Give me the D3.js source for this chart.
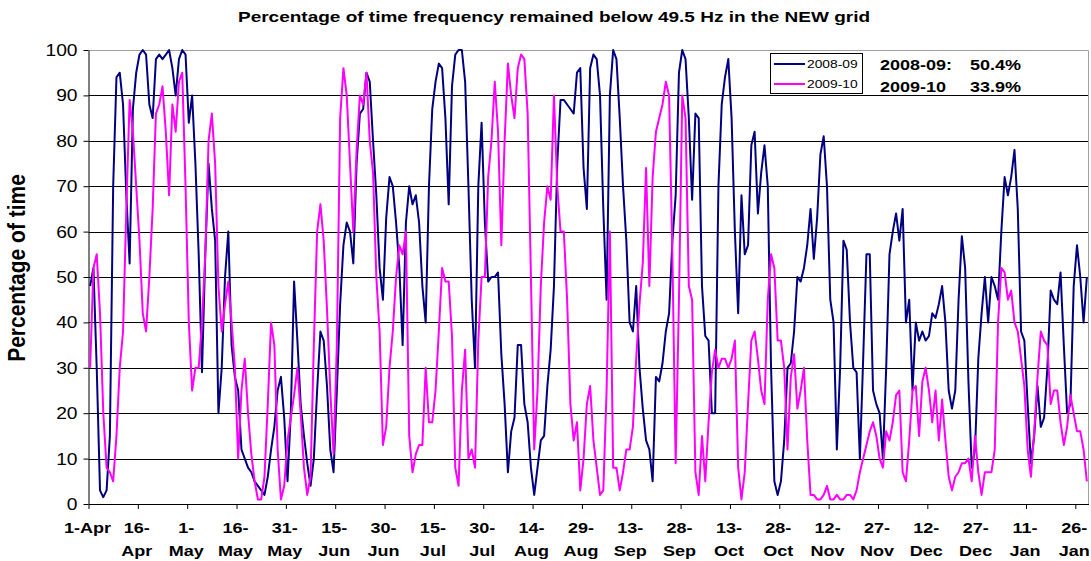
<!DOCTYPE html>
<html><head><meta charset="utf-8">
<script src="https://cdn.jsdelivr.net/npm/d3@7"></script>
<style>
body{margin:0;background:#fff;}
svg text{font-family:"Liberation Sans",Arial,sans-serif;fill:#000;}
</style></head>
<body><svg id="c" width="1091" height="561"></svg>
<script>
const series0Name = "2008-09";
const series1Name = "2009-10";
const navy = [
48,52,30,3,1.5,3,15,70,94,95,
88,68,53,87,95,99,100,99,88,85,
98,99,98,99,100,96,90,98,100,99,
84,90,75,55,29,55,75,65,58,20,
30,50,60,35,28,25,12,10,8,7,
5,4,3,2,6,12,17,25,28,19,
5,20,49,36,22,15,9,4,10,25,
38,36,26,12,7,25,44,57,62,60,
53,75,86,87,95,93,80,68,52,45,
63,72,70,62,52,35,62,70,66,68,
62,48,40,70,87,93,97,96,85,66,
92,99,100,100,93,70,45,30,70,84,
62,49,50,50,51,33,22,7,16,19,
35,35,22,18,8,2,8,14,15,26,
34,48,75,89,89,88,87,86,95,96,
74,65,96,99,98,90,65,45,90,100,
98,85,70,58,40,38,48,30,21,14,
12,5,28,27,31,38,42,58,68,95,
100,98,85,67,86,85,48,37,36,20,
20,70,88,94,98,85,60,42,68,55,
57,79,82,64,73,79,70,30,5,2,
5,14,30,31,38,50,49,52,57,65,
54,63,77,81,70,45,40,12,30,58,
56,40,30,29,10,32,55,55,25,22,
20,10,30,55,60,64,58,65,40,45,
25,40,36,38,36,37,42,41,44,48,
40,25,21,25,45,59,52,27,8,12,
32,42,50,40,50,48,45,60,72,68,
72,78,65,38,36,22,9,15,26,17,
19,30,47,45,44,51,35,20,22,48,
57,50,40,50];
const magenta = [
30,52,55,42,20,8,7,5,15,30,
38,65,89,82,70,58,42,38,50,65,
86,88,92,82,68,88,82,93,95,70,
40,25,30,30,40,55,80,86,75,48,
38,44,49,40,30,10,25,32,20,11,
5,1,1,6,22,40,35,12,1,4,
14,19,24,30,20,8,2,6,35,60,
66,58,43,25,11,35,85,96,90,75,
60,78,90,88,95,80,73,50,38,13,
17,30,38,50,57,55,60,15,7,11,
13,13,30,18,18,25,38,52,49,49,
37,8,4,25,34,10,12,8,36,50,
50,72,80,93,82,57,80,97,90,85,
96,99,98,86,50,12,25,48,62,70,
67,90,70,60,60,45,22,14,18,3,
10,22,26,14,8,2,3,25,60,8,
8,3,7,12,12,17,32,44,53,74,
48,72,82,85,88,93,90,55,9,45,
90,85,48,45,7,2,15,5,18,29,
34,30,32,32,30,32,36,8,1,7,
22,36,38,32,25,22,45,55,52,36,
36,30,12,28,33,21,25,30,14,2,
2,1,1,2,4,1,1,2,1,1,
2,2,1,3,7,10,13,16,18,15,
10,8,16,14,18,24,25,7,5,14,
25,26,15,27,30,25,18,25,14,23,
14,6,3,6,7,9,9,10,5,15,
7,2,7,7,7,12,40,52,51,45,
47,40,38,32,26,12,6,16,28,38,
36,35,22,25,25,18,13,17,24,20,
16,16,12,5];
const tickTop = ["1-Apr","16-","1-","16-","31-","15-","30-","15-","30-","14-","29-","13-","28-","13-","28-","12-","27-","12-","27-","11-","26-"];
const tickBottom = ["","Apr","May","May","May","Jun","Jun","Jul","Jul","Aug","Aug","Sep","Sep","Oct","Oct","Nov","Nov","Dec","Dec","Jan","Jan"];
const yTicks = [0,10,20,30,40,50,60,70,80,90,100];
const stats = [["2008-09:","50.4%"],["2009-10","33.9%"]];
const titleText = "Percentage of time frequency remained below 49.5 Hz in the NEW grid";
const yTitle = "Percentage of time";

const svg = d3.select("#c");
const L = 88.5, R = 1088.5, T = 50, B = 504;
const N = navy.length;
const days = d3.range(N);
const x = d3.scaleBand().domain(days).range([L, R]);
const xb = d3.scaleLinear().domain([0, N]).range([L, R]);
const y = d3.scaleLinear().domain([0, 100]).range([B, T]);
const K = 1.2;
function stretch(sel, k){ sel.each(function(){ const l=this.getComputedTextLength(); this.setAttribute("textLength", l*(k||K)); this.setAttribute("lengthAdjust","spacingAndGlyphs"); }); }

// gridlines
svg.append("g").selectAll("line").data(yTicks.filter(v=>v>0&&v<100)).join("line")
  .attr("x1", L).attr("x2", R).attr("y1", d=>Math.round(y(d))+0.5).attr("y2", d=>Math.round(y(d))+0.5)
  .attr("stroke", "#000").attr("stroke-width", 1);
// frame top/right
svg.append("path").attr("d", `M${L},${T+0.5}H${R}V${B}`).attr("fill","none").attr("stroke","#a0a0a0").attr("stroke-width",1);

// y axis
const ya = svg.append("g").attr("transform", `translate(${L},0)`)
  .call(d3.axisLeft(y).tickValues(yTicks).tickSize(5).tickPadding(6).tickSizeOuter(0));
ya.select(".domain").attr("stroke","#000");
ya.selectAll("line").attr("stroke","#000");
ya.selectAll("text").attr("font-size","16px").attr("font-family",'"Liberation Sans",Arial,sans-serif').attr("dy","0.34em");
stretch(ya.selectAll("text"));

// x axis
const tickIdx = d3.range(0, N, 15);
const xa = svg.append("g").attr("transform", `translate(0,${B})`)
  .call(d3.axisBottom(xb).tickValues(tickIdx).tickSize(5).tickFormat("").tickSizeOuter(0));
xa.select(".domain").attr("stroke","#000");
xa.selectAll("line").attr("stroke","#000");
const lab = svg.append("g").attr("font-size","15px").attr("font-weight","bold").attr("text-anchor","middle");
lab.selectAll("text.t").data(tickIdx).join("text").attr("class","t")
  .attr("x", d=>xb(d)-1).attr("y", 533).text((d,i)=>tickTop[i]);
lab.selectAll("text.b").data(tickIdx).join("text").attr("class","b")
  .attr("x", d=>xb(d)-1).attr("y", 556).text((d,i)=>tickBottom[i]);
stretch(lab.selectAll("text"));

// lines
const line = d3.line().x((d,i)=>x(i)+x.bandwidth()/2).y(d=>y(d));
svg.append("path").datum(navy).attr("d", line).attr("fill","none").attr("stroke","#000080").attr("stroke-width",2).attr("stroke-linejoin","round");
svg.append("path").datum(magenta).attr("d", line).attr("fill","none").attr("stroke","#ff00ff").attr("stroke-width",2).attr("stroke-linejoin","round");

// title
svg.append("text").attr("x", 554).attr("y", 22).attr("text-anchor","middle")
  .attr("font-size","14px").attr("font-weight","bold").text(titleText)
  .attr("textLength", 632).attr("lengthAdjust","spacingAndGlyphs");

// y title
svg.append("text").attr("transform","translate(25,268) scale(1.15,1) rotate(-90)")
  .attr("text-anchor","middle").attr("font-size","21px").attr("font-weight","bold").text(yTitle);

// legend
const lg = svg.append("g");
lg.append("rect").attr("x",770.5).attr("y",53.5).attr("width",92).attr("height",40).attr("fill","#fff").attr("stroke","#000").attr("stroke-width",1);
const lgItems = [[series0Name,"#000080",64],[series1Name,"#ff00ff",84]];
lgItems.forEach(([n,c,yy])=>{
  lg.append("line").attr("x1",774).attr("x2",805).attr("y1",yy).attr("y2",yy).attr("stroke",c).attr("stroke-width",2);
  const t = lg.append("text").attr("x",807).attr("y",yy+4).attr("font-size","11.5px").text(n);
  stretch(t);
});

// stats
const st = svg.append("g").attr("font-size","15px").attr("font-weight","bold");
stats.forEach((r,i)=>{
  const yy = i===0 ? 70 : 92;
  const a = st.append("text").attr("x",880).attr("y",yy).text(r[0]);
  stretch(a);
  const b = st.append("text").attr("x",970).attr("y",yy).text(r[1]);
  stretch(b);
});
</script></body></html>
